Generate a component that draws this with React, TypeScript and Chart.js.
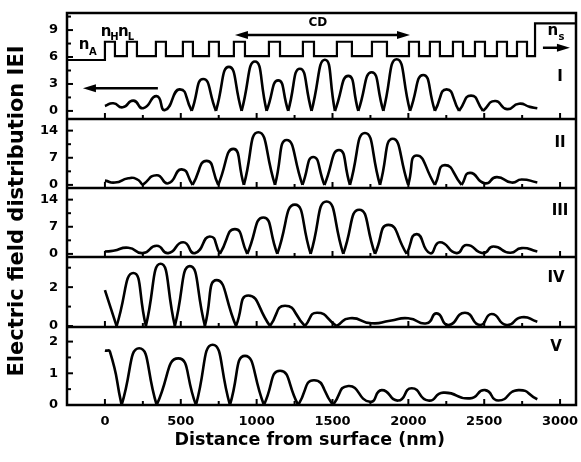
import React, { useEffect, useRef } from 'react';
import { Chart, registerables } from 'chart.js';
Chart.register(...registerables);

const FONT = "'DejaVu Sans', 'Liberation Sans', sans-serif";

// x axis (nm)
const xMin = -250;
const xMax = 3105;
const xMajorTicks = [0, 500, 1000, 1500, 2000, 2500, 3000];
const xMinorTicks = [250, 750, 1250, 1750, 2250, 2750];

// refractive-index profile drawn in panel I
const highStarts = [0, 145, 336, 514, 686, 850, 1081, 1305, 1529, 1760, 2004, 2142, 2294, 2439, 2584, 2716];
const highEnds = [66, 211, 402, 580, 751, 923, 1154, 1378, 1628, 1859, 2070, 2208, 2360, 2505, 2650, 2782];
const substrateStart = 2835;
const nAmbient = 5.67;
const nHigh = 7.7;
const nLow = 6.1;
const nSubstrate = 9.75;

// field curves |E|
const distI = [0, 55, 117, 187, 252, 341, 396, 494, 572, 648, 732, 817, 901, 989, 1066, 1142, 1208, 1285, 1362, 1450, 1516, 1604, 1670, 1758, 1835, 1923, 2011, 2098, 2175, 2252, 2334, 2413, 2492, 2571, 2650, 2729, 2801, 2850];
const fieldI = [0.55, 0.85, 0.4, 1.15, 0.3, 1.65, 0.1, 2.4, 0, 3.55, 0, 4.9, 0, 5.5, 0, 3.4, 0, 4.7, 0, 5.7, 0, 3.9, 0, 4.3, 0, 5.75, 0, 4.0, 0, 2.4, 0, 1.7, 0, 1.1, 0.2, 0.8, 0.45, 0.3];

const distII = [0, 66, 154, 209, 249, 341, 417, 506, 578, 670, 747, 846, 916, 1011, 1121, 1198, 1302, 1373, 1447, 1543, 1615, 1714, 1813, 1897, 1999, 2055, 2175, 2241, 2351, 2406, 2505, 2582, 2681, 2747, 2850];
const fieldII = [1.1, 0.6, 1.7, 1.5, 0, 2.5, 0.4, 4.0, 0, 6.2, 0, 9.3, 0, 13.6, 0, 11.6, 0, 7.2, 0, 9.0, 0, 13.4, 0, 11.9, 0, 7.6, 0, 5.1, 0, 3.1, 0.4, 2.0, 0.6, 1.4, 0.6];

const distIII = [0, 55, 154, 249, 341, 417, 516, 593, 692, 758, 857, 938, 1044, 1136, 1252, 1356, 1461, 1571, 1676, 1780, 1868, 1989, 2055, 2142, 2208, 2318, 2384, 2494, 2560, 2670, 2747, 2850];
const fieldIII = [0.6, 0.8, 1.6, 0.2, 2.1, 0.2, 3.0, 0.2, 4.5, 0, 6.4, 0, 9.4, 0, 12.7, 0, 13.5, 0, 11.4, 0, 7.5, 0, 5.1, 0.2, 3.0, 0.2, 2.3, 0.2, 1.9, 0.3, 1.5, 0.6];

const distIV = [0, 77, 187, 270, 367, 461, 560, 659, 736, 864, 945, 1088, 1187, 1318, 1398, 1527, 1615, 1758, 1879, 1999, 2121, 2187, 2263, 2373, 2472, 2549, 2648, 2747, 2850];
const fieldIV = [1.85, 0, 2.73, 0, 3.2, 0, 3.08, 0, 2.36, 0, 1.57, 0, 1.04, 0, 0.68, 0, 0.4, 0.14, 0.27, 0.4, 0.14, 0.65, 0.05, 0.68, 0.05, 0.62, 0.05, 0.45, 0.22];

const distV = [0, 33, 110, 226, 341, 483, 600, 710, 824, 923, 1048, 1154, 1274, 1378, 1503, 1604, 1747, 1824, 1933, 2022, 2131, 2230, 2406, 2505, 2593, 2725, 2850];
const fieldV = [1.72, 1.68, 0, 1.79, 0, 1.47, 0, 1.9, 0, 1.55, 0, 1.08, 0, 0.78, 0, 0.6, 0.1, 0.47, 0.14, 0.53, 0.14, 0.39, 0.21, 0.47, 0.14, 0.47, 0.18];

// panels
const panelIds = ['yI', 'yII', 'yIII', 'yIV', 'yV'];
const panelNames = ['I', 'II', 'III', 'IV', 'V'];
const panelMin = [-0.9, -0.8, -0.8, -0.05, 0];
const panelMax = [10.9, 17, 17, 3.55, 2.46];
const panelWeights = [106, 69, 69, 70, 78];
const majorTicks = [[0, 3, 6, 9], [0, 7, 14], [0, 7, 14], [0, 2], [0, 1, 2]];
const minorTicks = [[1.5, 4.5, 7.5, 10.5], [3.5, 10.5], [3.5, 10.5], [1, 3], [0.5, 1.5]];
const nameX = [3000, 3000, 3000, 2973, 2973];
const nameY = [3.8, 10.9, 11, 2.46, 1.84];

// panel I annotations (data coordinates)
const labelTexts = ['n', 'A', 'n', 'H', 'n', 'L', 'n', 's', 'CD'];
const labelX = [-138, -79, 7, 63, 122, 171, 2953, 3009, 1404];
const labelY = [7.33, 6.56, 8.78, 8.2, 8.78, 8.2, 8.9, 8.17, 9.83];
const labelSize = [15, 10, 15, 10, 15, 10, 15, 10, 12];
// arrows: from, to (tip), y, double-headed
const arrowFrom = [857, 349, 2887];
const arrowTo = [2011, -145, 3065];
const arrowY = [8.44, 2.52, 7.03];
const arrowDouble = [true, false, false];

const xTitle = 'Distance from surface (nm)';
const yTitle = 'Electric field distribution IEI';

type P = { x: number; y: number };
function arches(xs: number[], ys: number[]): P[][] {
  const segs: P[][] = [];
  let cur: P[] = [];
  xs.forEach((x, i) => {
    const p = { x, y: ys[i] };
    cur.push(p);
    if (ys[i] === 0 && cur.length > 1 && i < xs.length - 1) {
      segs.push(cur);
      cur = [p];
    }
  });
  if (cur.length > 1) segs.push(cur);
  return segs;
}

function indexProfile(): P[] {
  const pts: P[] = [{ x: xMin, y: nAmbient }];
  highStarts.forEach((s, i) => {
    pts.push({ x: s, y: nHigh });
    pts.push({ x: highEnds[i], y: nLow });
  });
  pts.push({ x: substrateStart, y: nSubstrate });
  pts.push({ x: xMax, y: nSubstrate });
  return pts;
}

const decor = {
  id: 'decor',
  afterDatasetsDraw(chart: any) {
    const ctx = chart.ctx as CanvasRenderingContext2D;
    const { left, right, top, bottom } = chart.chartArea;
    const xs = chart.scales.x;
    const line = (x1: number, y1: number, x2: number, y2: number) => {
      ctx.beginPath();
      ctx.moveTo(x1, y1);
      ctx.lineTo(x2, y2);
      ctx.stroke();
    };
    ctx.save();
    ctx.strokeStyle = '#000';
    ctx.fillStyle = '#000';
    panelIds.forEach((id, k) => {
      const s = chart.scales[id];
      ctx.lineWidth = 2;
      xMajorTicks.forEach(v => { const px = xs.getPixelForValue(v); line(px, s.bottom, px, s.bottom - 6); });
      xMinorTicks.forEach(v => { const px = xs.getPixelForValue(v); line(px, s.bottom, px, s.bottom - 4); });
      majorTicks[k].forEach(v => { const py = s.getPixelForValue(v); line(left, py, left + 6, py); });
      minorTicks[k].forEach(v => { const py = s.getPixelForValue(v); line(left, py, left + 4, py); });
      ctx.lineWidth = 2.5;
      if (k < panelIds.length - 1) line(left, s.bottom, right, s.bottom);
      ctx.font = `bold 15px ${FONT}`;
      ctx.textAlign = 'center';
      ctx.textBaseline = 'middle';
      ctx.fillText(panelNames[k], xs.getPixelForValue(nameX[k]), s.getPixelForValue(nameY[k]));
    });
    ctx.lineWidth = 2.5;
    ctx.strokeRect(left, top, right - left, bottom - top);

    const y1 = chart.scales.yI;
    labelTexts.forEach((t, i) => {
      ctx.font = `bold ${labelSize[i]}px ${FONT}`;
      ctx.textAlign = 'center';
      ctx.textBaseline = 'middle';
      ctx.fillText(t, xs.getPixelForValue(labelX[i]), y1.getPixelForValue(labelY[i]));
    });
    const head = (tipX: number, y: number, dir: number) => {
      ctx.beginPath();
      ctx.moveTo(tipX, y);
      ctx.lineTo(tipX - dir * 13, y - 4);
      ctx.lineTo(tipX - dir * 13, y + 4);
      ctx.closePath();
      ctx.fill();
    };
    arrowFrom.forEach((f, i) => {
      const a = xs.getPixelForValue(f);
      const b = xs.getPixelForValue(arrowTo[i]);
      const py = y1.getPixelForValue(arrowY[i]);
      const dir = b > a ? 1 : -1;
      ctx.lineWidth = 2.5;
      line(arrowDouble[i] ? a + dir * 8 : a, py, b - dir * 8, py);
      head(b, py, dir);
      if (arrowDouble[i]) head(a, py, -dir);
    });

    ctx.font = `bold 17.5px ${FONT}`;
    ctx.textAlign = 'center';
    ctx.textBaseline = 'middle';
    ctx.fillText(xTitle, xs.getPixelForValue(1350), 440);
    ctx.save();
    ctx.translate(18, (top + bottom) / 2 + 2);
    ctx.rotate(-Math.PI / 2);
    ctx.font = `bold 21px ${FONT}`;
    ctx.fillText(yTitle, 0, 0);
    ctx.restore();
    ctx.restore();
  },
};

export default function App() {
  const ref = useRef<HTMLCanvasElement>(null);
  useEffect(() => {
    if (!ref.current) return;
    const curves = [[distI, fieldI], [distII, fieldII], [distIII, fieldIII], [distIV, fieldIV], [distV, fieldV]];
    const datasets: any[] = [];
    curves.forEach(([xs, ys], k) => {
      arches(xs, ys).forEach(seg => {
        datasets.push({ data: seg, yAxisID: panelIds[k], xAxisID: 'x', borderColor: '#000', borderWidth: 2.6, tension: 0.6, pointRadius: 0, fill: false, borderJoinStyle: 'round' });
      });
    });
    datasets.push({ data: indexProfile(), yAxisID: 'yI', xAxisID: 'x', stepped: true, borderColor: '#000', borderWidth: 2.2, pointRadius: 0, fill: false });

    const tickFont = { family: FONT, size: 13, weight: 'bold' as const };
    const scales: any = {
      x: {
        type: 'linear', position: 'bottom', min: xMin, max: xMax,
        grid: { display: false, drawTicks: false }, border: { display: false },
        ticks: { font: tickFont, color: '#000', padding: 9, autoSkip: false, maxRotation: 0, callback: (v: any) => String(v) },
        afterBuildTicks: (s: any) => { s.ticks = xMajorTicks.map(v => ({ value: v })); },
        afterFit: (s: any) => { s.height = 57; s.paddingLeft = 0; s.paddingRight = 0; },
      },
    };
    panelIds.forEach((id, k) => {
      scales[id] = {
        type: 'linear', position: 'left', stack: 'panels', stackWeight: panelWeights[k], weight: 10 - k,
        min: panelMin[k], max: panelMax[k],
        grid: { display: false, drawTicks: false }, border: { display: false },
        ticks: { font: tickFont, color: '#000', padding: 9, autoSkip: false, callback: (v: any) => String(v) },
        afterBuildTicks: (s: any) => { s.ticks = majorTicks[k].map(v => ({ value: v })); },
        afterFit: (s: any) => { s.width = 67; s.paddingTop = 0; s.paddingBottom = 0; },
      };
    });

    const chart = new Chart(ref.current, {
      type: 'line',
      data: { datasets },
      options: {
        responsive: false,
        animation: false,
        layout: { padding: { top: 13, right: 5, bottom: 0, left: 0 } },
        plugins: { legend: { display: false }, tooltip: { enabled: false } },
        scales,
      },
      plugins: [decor],
    });
    return () => chart.destroy();
  }, []);
  return (
    <div style={{ position: 'absolute', left: 0, top: 0, width: 581, height: 462, background: '#fff' }}>
      <canvas ref={ref} width={581} height={462} />
    </div>
  );
}
